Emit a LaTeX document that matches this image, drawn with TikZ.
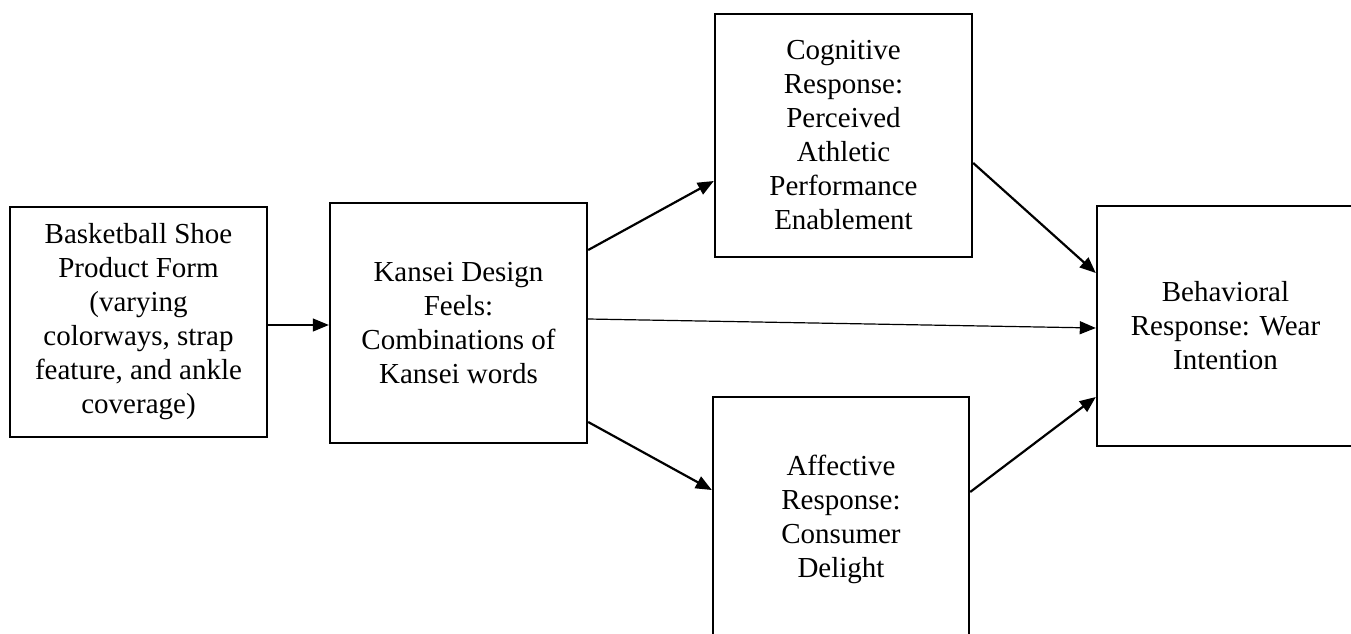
\documentclass[tikz,border=0pt]{standalone}
\usepackage{fontspec}
\setmainfont{Liberation Serif}
\usepackage{tikz}
\usetikzlibrary{arrows.meta}

\begin{document}
\begin{tikzpicture}[
  x=0.5pt, y=-0.5pt,
  block/.style={rectangle, draw, line width=1.2pt, minimum width=128.5pt, inner sep=0pt, align=center, font=\fontsize{14.5}{17}\selectfont},
  arrow/.style={-{Triangle[length=8pt,width=6.5pt]}, line width=1.1pt},
  thinarrow/.style={arrow, line width=0.6pt}
]
\clip (0,0) rectangle (1351,633);

% Stimulus and organism
\node[block, minimum height=115pt] (shoe) at (138.5,322)
  {Basketball Shoe\\Product Form\\(varying\\colorways, strap\\feature, and ankle\\coverage)};
\node[block, minimum height=120pt] (kansei) at (458.5,323)
  {Kansei Design\\Feels:\\Combinations of\\Kansei words};

% Responses
\node[block, minimum height=121.5pt] (cog) at (843.5,135.5)
  {Cognitive\\Response:\\Perceived\\Athletic\\Performance\\Enablement};
\node[block, minimum width=128pt, minimum height=122.5pt] (aff) at (841,519.5)
  {Affective\\Response:\\Consumer\\Delight};
\node[block, minimum height=120pt] (behav) at (1225.5,326)
  {Behavioral\\Response: Wear\\Intention};

% Arrows
\draw[thinarrow] ([yshift=-1.5pt]shoe.east) -- ([yshift=-1pt]kansei.west);
\draw[arrow]     ([yshift=36.5pt]kansei.east) -- ([yshift=-22.75pt]cog.west);
\draw[thinarrow] ([yshift=2pt]kansei.east) -- ([yshift=-1pt]behav.west);
\draw[arrow]     ([yshift=-49.5pt]kansei.east) -- ([yshift=14.75pt]aff.west);
\draw[arrow]     ([yshift=-13.75pt]cog.east) -- ([yshift=26.5pt]behav.west);
\draw[arrow]     ([yshift=13.75pt]aff.east) -- ([yshift=-35.5pt]behav.west);

\end{tikzpicture}
\end{document}
